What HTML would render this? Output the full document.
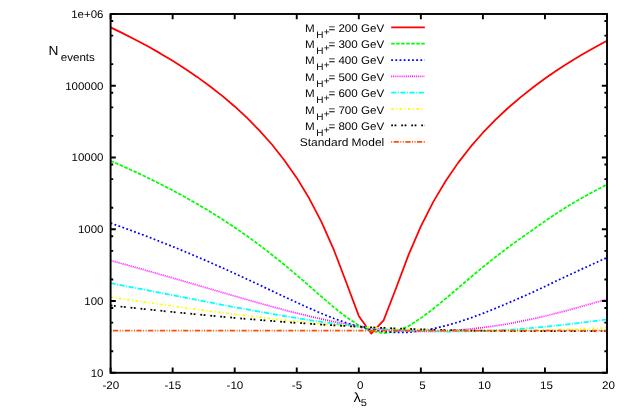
<!DOCTYPE html>
<html><head><meta charset="utf-8"><title>plot</title>
<style>html,body{margin:0;padding:0;background:#fff}svg{display:block;will-change:transform;transform:translateZ(0)}text{text-rendering:geometricPrecision;font-family:"Liberation Sans",sans-serif;fill:#000}</style></head><body>
<svg width="642" height="420" viewBox="0 0 642 420">
<rect width="642" height="420" fill="#fff"/>
<g fill="none" stroke-width="1.75" stroke-linejoin="round">
<path d="M110.60 27.36 L123.01 33.38 L135.42 39.70 L147.83 46.35 L160.24 53.38 L172.65 60.82 L185.06 68.72 L197.47 77.16 L209.88 86.20 L222.29 95.93 L234.70 106.46 L247.11 117.95 L259.52 130.56 L271.93 144.53 L284.34 160.18 L296.75 177.91 L309.16 198.31 L321.57 222.11 L333.98 250.19 L346.39 282.80 L358.80 315.92 L371.21 333.53 L383.62 320.33 L396.03 288.28 L408.44 255.13 L420.85 226.31 L433.26 201.88 L445.67 181.00 L458.08 162.88 L470.49 146.93 L482.90 132.71 L495.31 119.90 L507.72 108.24 L520.13 97.57 L532.54 87.71 L544.95 78.57 L557.36 70.04 L569.77 62.06 L582.18 54.55 L594.59 47.46 L607.00 40.75" stroke="#ff0000"/>
<path d="M110.60 160.91 L123.01 166.30 L135.42 171.92 L147.83 177.79 L160.24 183.91 L172.65 190.32 L185.06 197.03 L197.47 204.07 L209.88 211.47 L222.29 219.25 L234.70 227.44 L247.11 236.07 L259.52 245.15 L271.93 254.71 L284.34 264.72 L296.75 275.15 L309.16 285.89 L321.57 296.74 L333.98 307.36 L346.39 317.18 L358.80 325.40 L371.21 331.04 L383.62 333.21 L396.03 331.49 L408.44 326.17 L420.85 318.13 L433.26 308.80 L445.67 298.59 L458.08 288.11 L470.49 277.44 L482.90 267.09 L495.31 257.16 L507.72 247.70 L520.13 238.61 L532.54 229.98 L544.95 221.22 L557.36 212.87 L569.77 204.91 L582.18 197.78 L594.59 190.97 L607.00 184.48" stroke="#00ff00" stroke-dasharray="3.49 1.52"/>
<path d="M110.60 223.08 L123.01 227.52 L135.42 232.08 L147.83 236.78 L160.24 241.62 L172.65 246.59 L185.06 251.70 L197.47 256.94 L209.88 262.33 L222.29 267.84 L234.70 273.47 L247.11 279.20 L259.52 285.02 L271.93 290.87 L284.34 296.72 L296.75 302.50 L309.16 308.13 L321.57 313.49 L333.98 318.48 L346.39 322.92 L358.80 326.68 L371.21 329.60 L383.62 331.55 L396.03 332.44 L408.44 332.25 L420.85 331.01 L433.26 328.79 L445.67 325.70 L458.08 322.16 L470.49 318.02 L482.90 313.43 L495.31 308.44 L507.72 303.21 L520.13 297.83 L532.54 292.38 L544.95 286.44 L557.36 280.52 L569.77 274.66 L582.18 268.88 L594.59 263.21 L607.00 257.64" stroke="#0000ff" stroke-dasharray="1.82 2.35"/>
<path d="M110.60 260.48 L123.01 263.90 L135.42 267.36 L147.83 270.87 L160.24 274.42 L172.65 278.00 L185.06 281.60 L197.47 285.23 L209.88 288.86 L222.29 292.49 L234.70 296.09 L247.11 299.67 L259.52 303.18 L271.93 306.62 L284.34 309.95 L296.75 313.16 L309.16 316.20 L321.57 319.05 L333.98 321.68 L346.39 324.05 L358.80 326.14 L371.21 327.91 L383.62 329.34 L396.03 330.42 L408.44 331.12 L420.85 331.44 L433.26 331.37 L445.67 330.92 L458.08 330.09 L470.49 328.91 L482.90 327.55 L495.31 325.87 L507.72 323.90 L520.13 321.54 L532.54 318.95 L544.95 316.15 L557.36 313.00 L569.77 309.69 L582.18 306.27 L594.59 302.74 L607.00 299.14" stroke="#ff00ff" stroke-dasharray="0.98 1.10"/>
<path d="M110.60 283.15 L123.01 285.54 L135.42 287.94 L147.83 290.36 L160.24 292.77 L172.65 295.19 L185.06 297.61 L197.47 300.02 L209.88 302.41 L222.29 304.79 L234.70 307.13 L247.11 309.44 L259.52 311.69 L271.93 313.89 L284.34 316.02 L296.75 318.07 L309.16 320.01 L321.57 321.85 L333.98 323.57 L346.39 325.14 L358.80 326.57 L371.21 327.83 L383.62 328.92 L396.03 329.82 L408.44 330.54 L420.85 331.06 L433.26 331.39 L445.67 331.53 L458.08 331.48 L470.49 331.34 L482.90 331.03 L495.31 330.55 L507.72 329.92 L520.13 328.99 L532.54 327.93 L544.95 326.75 L557.36 325.45 L569.77 324.06 L582.18 322.58 L594.59 321.01 L607.00 319.37" stroke="#00ffff" stroke-dasharray="5.16 1.52 0.98 1.52"/>
<path d="M110.60 297.12 L123.01 298.93 L135.42 300.74 L147.83 302.53 L160.24 304.30 L172.65 306.04 L185.06 307.76 L197.47 309.45 L209.88 311.11 L222.29 312.73 L234.70 314.30 L247.11 315.82 L259.52 317.29 L271.93 318.70 L284.34 320.05 L296.75 321.33 L309.16 322.54 L321.57 323.67 L333.98 324.73 L346.39 325.70 L358.80 326.60 L371.21 327.40 L383.62 328.12 L396.03 328.75 L408.44 329.30 L420.85 329.76 L433.26 330.13 L445.67 330.42 L458.08 330.63 L470.49 330.76 L482.90 330.81 L495.31 330.79 L507.72 330.70 L520.13 330.54 L532.54 330.32 L544.95 330.04 L557.36 329.70 L569.77 329.31 L582.18 328.87 L594.59 328.38 L607.00 327.84" stroke="#ffff00" stroke-dasharray="2.65 2.35 0.98 2.35"/>
<path d="M110.60 305.49 L123.01 306.82 L135.42 308.14 L147.83 309.44 L160.24 310.72 L172.65 311.98 L185.06 313.22 L197.47 314.43 L209.88 315.61 L222.29 316.76 L234.70 317.87 L247.11 318.95 L259.52 319.99 L271.93 320.99 L284.34 321.95 L296.75 322.87 L309.16 323.74 L321.57 324.56 L333.98 325.33 L346.39 326.05 L358.80 326.73 L371.21 327.35 L383.62 327.92 L396.03 328.44 L408.44 328.91 L420.85 329.33 L433.26 329.70 L445.67 330.03 L458.08 330.31 L470.49 330.55 L482.90 330.74 L495.31 330.90 L507.72 331.02 L520.13 331.10 L532.54 331.16 L544.95 331.18 L557.36 331.18 L569.77 331.15 L582.18 331.10 L594.59 331.04 L607.00 330.95" stroke="#000000" stroke-dasharray="1.82 1.52 1.82 4.86"/>
<path d="M110.60 330.70 L607.00 330.70" stroke="#ff4d00" stroke-dasharray="0.98 1.52 5.16 1.52 0.98 1.52"/>
</g>
<g fill="none" stroke-width="1.75">
<path d="M391.2 27.30 H424.8" stroke="#ff0000"/>
<path d="M391.2 43.66 H424.8" stroke="#00ff00" stroke-dasharray="3.49 1.52"/>
<path d="M391.2 60.02 H424.8" stroke="#0000ff" stroke-dasharray="1.82 2.35"/>
<path d="M391.2 76.38 H424.8" stroke="#ff00ff" stroke-dasharray="0.98 1.10"/>
<path d="M391.2 92.74 H424.8" stroke="#00ffff" stroke-dasharray="5.16 1.52 0.98 1.52"/>
<path d="M391.2 109.10 H424.8" stroke="#ffff00" stroke-dasharray="2.65 2.35 0.98 2.35"/>
<path d="M391.2 125.46 H424.8" stroke="#000000" stroke-dasharray="1.82 1.52 1.82 4.86"/>
<path d="M391.2 141.82 H424.8" stroke="#ff4d00" stroke-dasharray="0.98 1.52 5.16 1.52 0.98 1.52"/>
</g>
<g fill="none" stroke="#000" stroke-width="1.9" stroke-linecap="butt">
<rect x="110.60" y="14.00" width="496.40" height="358.80"/>
<path d="M110.60 372.80 v-5.2 M110.60 14.00 v5.2 M172.65 372.80 v-5.2 M172.65 14.00 v5.2 M234.70 372.80 v-5.2 M234.70 14.00 v5.2 M296.75 372.80 v-5.2 M296.75 14.00 v5.2 M358.80 372.80 v-5.2 M358.80 14.00 v5.2 M420.85 372.80 v-5.2 M420.85 14.00 v5.2 M482.90 372.80 v-5.2 M482.90 14.00 v5.2 M544.95 372.80 v-5.2 M544.95 14.00 v5.2 M607.00 372.80 v-5.2 M607.00 14.00 v5.2 M110.60 372.80 h5.2 M607.00 372.80 h-5.2 M110.60 351.20 h2.6 M607.00 351.20 h-2.6 M110.60 322.64 h2.6 M607.00 322.64 h-2.6 M110.60 307.99 h2.6 M607.00 307.99 h-2.6 M110.60 301.04 h5.2 M607.00 301.04 h-5.2 M110.60 279.44 h2.6 M607.00 279.44 h-2.6 M110.60 250.88 h2.6 M607.00 250.88 h-2.6 M110.60 236.23 h2.6 M607.00 236.23 h-2.6 M110.60 229.28 h5.2 M607.00 229.28 h-5.2 M110.60 207.68 h2.6 M607.00 207.68 h-2.6 M110.60 179.12 h2.6 M607.00 179.12 h-2.6 M110.60 164.47 h2.6 M607.00 164.47 h-2.6 M110.60 157.52 h5.2 M607.00 157.52 h-5.2 M110.60 135.92 h2.6 M607.00 135.92 h-2.6 M110.60 107.36 h2.6 M607.00 107.36 h-2.6 M110.60 92.71 h2.6 M607.00 92.71 h-2.6 M110.60 85.76 h5.2 M607.00 85.76 h-5.2 M110.60 64.16 h2.6 M607.00 64.16 h-2.6 M110.60 35.60 h2.6 M607.00 35.60 h-2.6 M110.60 20.95 h2.6 M607.00 20.95 h-2.6 M110.60 14.00 h5.2 M607.00 14.00 h-5.2"/>
</g>
<text transform="translate(103.50 376.55) scale(1.035 1)" font-size="11.10" text-anchor="end">10</text>
<text transform="translate(103.50 304.79) scale(1.035 1)" font-size="11.10" text-anchor="end">100</text>
<text transform="translate(103.50 233.03) scale(1.035 1)" font-size="11.10" text-anchor="end">1000</text>
<text transform="translate(103.50 161.27) scale(1.035 1)" font-size="11.10" text-anchor="end">10000</text>
<text transform="translate(103.50 89.51) scale(1.035 1)" font-size="11.10" text-anchor="end">100000</text>
<text transform="translate(103.50 17.75) scale(1.035 1)" font-size="11.10" text-anchor="end">1e+06</text>
<text transform="translate(110.80 388.65) scale(1.046 1)" font-size="11.10" text-anchor="middle">-20</text>
<text transform="translate(172.85 388.65) scale(1.046 1)" font-size="11.10" text-anchor="middle">-15</text>
<text transform="translate(234.90 388.65) scale(1.046 1)" font-size="11.10" text-anchor="middle">-10</text>
<text transform="translate(296.95 388.65) scale(1.046 1)" font-size="11.10" text-anchor="middle">-5</text>
<text transform="translate(360.30 388.65) scale(1.046 1)" font-size="11.10" text-anchor="middle">0</text>
<text transform="translate(422.35 388.65) scale(1.046 1)" font-size="11.10" text-anchor="middle">5</text>
<text transform="translate(484.40 388.65) scale(1.046 1)" font-size="11.10" text-anchor="middle">10</text>
<text transform="translate(546.45 388.65) scale(1.046 1)" font-size="11.10" text-anchor="middle">15</text>
<text transform="translate(608.50 388.65) scale(1.046 1)" font-size="11.10" text-anchor="middle">20</text>
<text transform="translate(48.40 55.30) scale(1.040 1)" font-size="13.20" text-anchor="start">N</text>
<text transform="translate(60.70 61.00) scale(1.046 1)" font-size="11.10" text-anchor="start">events</text>
<text transform="translate(353.50 401.80) scale(1.110 1)" font-size="13.30" text-anchor="start">&#955;</text>
<text transform="translate(360.80 406.10) scale(1.100 1)" font-size="10.00" text-anchor="start">5</text>
<text transform="translate(305.00 31.60) scale(1.046 1)" font-size="11.10" text-anchor="start">M</text>
<text transform="translate(316.30 37.55) scale(1.046 1)" font-size="9.60" text-anchor="start">H</text>
<text transform="translate(323.70 35.00) scale(1.046 1)" font-size="9.60" text-anchor="start">+</text>
<text transform="translate(384.20 31.60) scale(1.046 1)" font-size="11.10" text-anchor="end">= 200 GeV</text>
<text transform="translate(305.00 47.99) scale(1.046 1)" font-size="11.10" text-anchor="start">M</text>
<text transform="translate(316.30 53.94) scale(1.046 1)" font-size="9.60" text-anchor="start">H</text>
<text transform="translate(323.70 51.39) scale(1.046 1)" font-size="9.60" text-anchor="start">+</text>
<text transform="translate(384.20 47.99) scale(1.046 1)" font-size="11.10" text-anchor="end">= 300 GeV</text>
<text transform="translate(305.00 64.38) scale(1.046 1)" font-size="11.10" text-anchor="start">M</text>
<text transform="translate(316.30 70.33) scale(1.046 1)" font-size="9.60" text-anchor="start">H</text>
<text transform="translate(323.70 67.78) scale(1.046 1)" font-size="9.60" text-anchor="start">+</text>
<text transform="translate(384.20 64.38) scale(1.046 1)" font-size="11.10" text-anchor="end">= 400 GeV</text>
<text transform="translate(305.00 80.77) scale(1.046 1)" font-size="11.10" text-anchor="start">M</text>
<text transform="translate(316.30 86.72) scale(1.046 1)" font-size="9.60" text-anchor="start">H</text>
<text transform="translate(323.70 84.17) scale(1.046 1)" font-size="9.60" text-anchor="start">+</text>
<text transform="translate(384.20 80.77) scale(1.046 1)" font-size="11.10" text-anchor="end">= 500 GeV</text>
<text transform="translate(305.00 97.16) scale(1.046 1)" font-size="11.10" text-anchor="start">M</text>
<text transform="translate(316.30 103.11) scale(1.046 1)" font-size="9.60" text-anchor="start">H</text>
<text transform="translate(323.70 100.56) scale(1.046 1)" font-size="9.60" text-anchor="start">+</text>
<text transform="translate(384.20 97.16) scale(1.046 1)" font-size="11.10" text-anchor="end">= 600 GeV</text>
<text transform="translate(305.00 113.55) scale(1.046 1)" font-size="11.10" text-anchor="start">M</text>
<text transform="translate(316.30 119.50) scale(1.046 1)" font-size="9.60" text-anchor="start">H</text>
<text transform="translate(323.70 116.95) scale(1.046 1)" font-size="9.60" text-anchor="start">+</text>
<text transform="translate(384.20 113.55) scale(1.046 1)" font-size="11.10" text-anchor="end">= 700 GeV</text>
<text transform="translate(305.00 129.94) scale(1.046 1)" font-size="11.10" text-anchor="start">M</text>
<text transform="translate(316.30 135.89) scale(1.046 1)" font-size="9.60" text-anchor="start">H</text>
<text transform="translate(323.70 133.34) scale(1.046 1)" font-size="9.60" text-anchor="start">+</text>
<text transform="translate(384.20 129.94) scale(1.046 1)" font-size="11.10" text-anchor="end">= 800 GeV</text>
<text transform="translate(384.20 146.18) scale(1.078 1)" font-size="11.10" text-anchor="end">Standard Model</text>
</svg></body></html>
